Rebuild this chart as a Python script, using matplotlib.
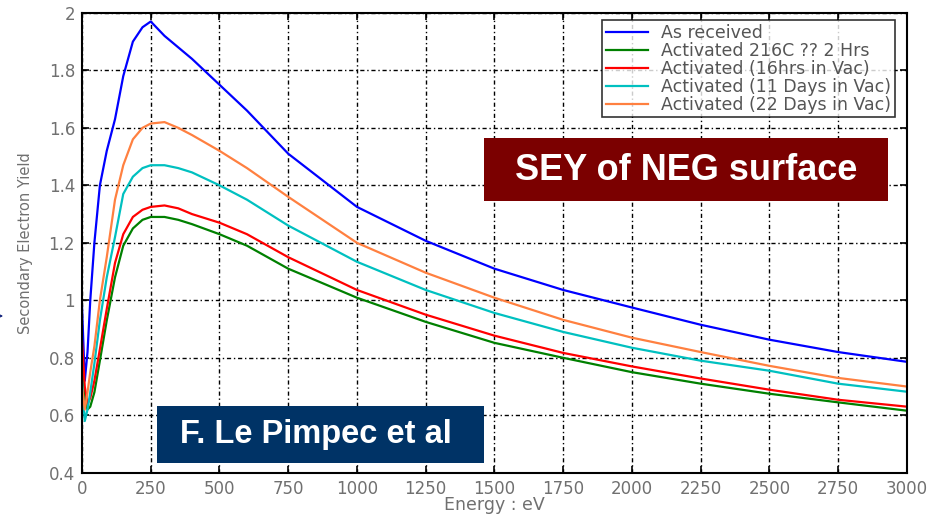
import matplotlib.pyplot as plt
from matplotlib.patches import Rectangle

# energy grid (eV) and yields
energy = [0, 10, 20, 30, 45, 65, 90, 120, 150, 185, 220, 250, 300, 350, 400,
          500, 600, 750, 1000, 1250, 1500, 1750, 2000, 2250, 2500, 2750, 3000]

as_received = [0.98, 0.72, 0.82, 1.00, 1.20, 1.40, 1.52, 1.63, 1.78, 1.90, 1.95, 1.97, 1.92, 1.88, 1.84,
               1.75, 1.66, 1.51, 1.325, 1.207, 1.11, 1.036, 0.975, 0.915, 0.863, 0.82, 0.786]
act_216c = [0.80, 0.66, 0.62, 0.63, 0.68, 0.79, 0.93, 1.08, 1.19, 1.25, 1.28, 1.29, 1.29, 1.28, 1.265,
            1.23, 1.19, 1.11, 1.009, 0.925, 0.852, 0.80, 0.75, 0.71, 0.675, 0.645, 0.616]
act_16hrs = [0.86, 0.70, 0.64, 0.66, 0.72, 0.83, 0.97, 1.13, 1.23, 1.29, 1.315, 1.325, 1.33, 1.32, 1.30,
             1.27, 1.23, 1.15, 1.036, 0.95, 0.877, 0.817, 0.77, 0.728, 0.689, 0.654, 0.63]
act_11days = [0.72, 0.58, 0.62, 0.68, 0.78, 0.93, 1.08, 1.22, 1.37, 1.43, 1.46, 1.47, 1.47, 1.46, 1.445,
              1.40, 1.35, 1.26, 1.134, 1.036, 0.956, 0.89, 0.835, 0.79, 0.755, 0.71, 0.682]
act_22days = [0.70, 0.62, 0.68, 0.75, 0.84, 1.00, 1.15, 1.35, 1.47, 1.56, 1.60, 1.615, 1.62, 1.60, 1.575,
              1.52, 1.46, 1.36, 1.20, 1.096, 1.009, 0.932, 0.87, 0.82, 0.772, 0.73, 0.70]

labels = ['As received', 'Activated 216C ?? 2 Hrs', 'Activated (16hrs in Vac)',
          'Activated (11 Days in Vac)', 'Activated (22 Days in Vac)']
series = [as_received, act_216c, act_16hrs, act_11days, act_22days]
colors = ['#0000ff', '#008000', '#ff0000', '#00c0c0', '#ff8040']

xticks = [0, 250, 500, 750, 1000, 1250, 1500, 1750, 2000, 2250, 2500, 2750, 3000]
yticks = [0.4, 0.6, 0.8, 1.0, 1.2, 1.4, 1.6, 1.8, 2.0]
ytick_labels = ['0.4', '0.6', '0.8', '1', '1.2', '1.4', '1.6', '1.8', '2']

plt.rcParams['font.family'] = ['DejaVu Sans']

fig = plt.figure(figsize=(9.32, 5.15), dpi=100)
ax = fig.add_axes([0.088, 0.082, 0.885, 0.893])

for vals, lab, c in zip(series, labels, colors):
    ax.plot(energy, vals, color=c, lw=1.6, label=lab)

ax.set_xlim(0, 3000)
ax.set_ylim(0.4, 2.0)
ax.set_xticks(xticks)
ax.set_yticks(yticks)
ax.set_yticklabels(ytick_labels)
ax.tick_params(direction='in', length=5, width=1.2, top=True, right=True,
               labelsize=12, labelcolor='#707070', pad=5)
ax.grid(True, color='black', linestyle=(0, (3, 2, 1, 2)), lw=1.0)
for s in ax.spines.values():
    s.set_linewidth(1.5)

ax.set_xlabel('Energy : eV', fontsize=12.5, color='#707070', labelpad=-1)
ax.set_ylabel('Secondary Electron Yield', fontsize=10.5, color='#707070', labelpad=11)

leg = ax.legend(loc='upper right', bbox_to_anchor=(0.9855, 0.984), fontsize=12.5,
                frameon=True, fancybox=False, edgecolor='black', handlelength=2.4,
                handletextpad=0.8, borderpad=0.2, labelspacing=0.0, borderaxespad=0)
leg.get_frame().set_linewidth(1.2)
for t in leg.get_texts():
    t.set_color('#555555')

# title badges
fig.patches.append(Rectangle((484 / 932, 1 - 201 / 515), 404 / 932, 63 / 515,
                             transform=fig.transFigure, fc='#7b0000', ec='none', zorder=5))
fig.text(686 / 932, 1 - 170 / 515, 'SEY of NEG surface', fontsize=26, fontweight='bold',
         color='white', ha='center', va='center', family='Liberation Sans', zorder=6)
fig.patches.append(Rectangle((157 / 932, 1 - 463 / 515), 327 / 932, 57 / 515,
                             transform=fig.transFigure, fc='#003366', ec='none', zorder=5))
fig.text(316 / 932, 1 - 435 / 515, 'F. Le Pimpec et al', fontsize=23.5, fontweight='bold',
         color='white', ha='center', va='center', family='Liberation Sans', zorder=6)

ax.annotate('', xy=(6, 199), xytext=(-4, 199), xycoords='figure pixels',
            textcoords='figure pixels',
            arrowprops=dict(arrowstyle='-|>', color='#1a2a80', lw=1))

fig.savefig('out.png', dpi=100)
